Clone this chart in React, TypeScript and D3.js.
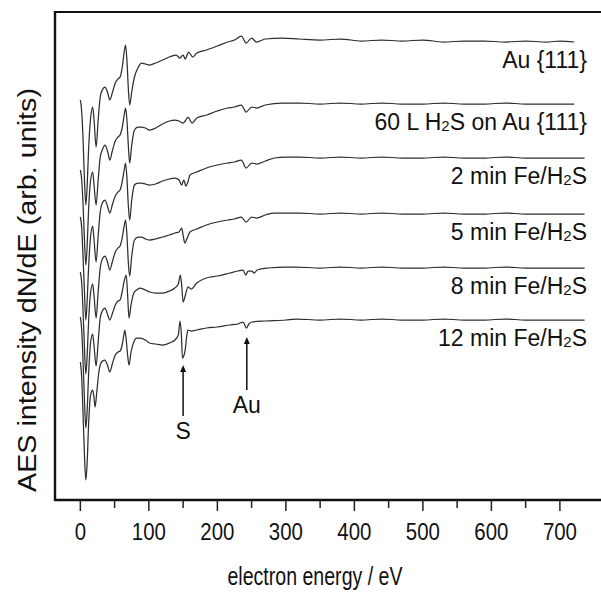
import React from 'react';
import * as d3 from 'd3';

// ---- data (energy in eV, intensity dN/dE in arb. units, traces offset vertically) ----
const energyMajorTicks = [0, 100, 200, 300, 400, 500, 600, 700];
const energyMinorTicks = [50, 150, 250, 350, 450, 550, 650];

const seriesNames = [
  'Au {111}',
  '60 L H2S on Au {111}',
  '2 min Fe/H2S',
  '5 min Fe/H2S',
  '8 min Fe/H2S',
  '12 min Fe/H2S',
];

const au111: [number, number][] = [
  [0, 400], [2, 388], [4, 360], [6, 320], [8, 295], [10, 315], [12, 350], [15, 382], [18, 393], [20, 380],
  [23, 353], [26, 380], [29, 403], [32, 410], [36, 413], [40, 407], [43, 400], [47, 408], [51, 417], [55, 421],
  [58, 423], [61, 432], [64, 448], [66, 455], [68, 440], [70, 412], [72, 395], [75, 408], [79, 423], [84, 432],
  [89, 437], [95, 436], [101, 435], [110, 437], [120, 440], [130, 443], [140, 445], [145, 442], [150, 445], [153, 441],
  [158, 448], [164, 443], [170, 447], [184, 450], [200, 454], [215, 458], [225, 460], [235, 464], [242, 457], [250, 462],
  [257, 458], [270, 461], [295, 462], [320, 461], [350, 460], [380, 461], [410, 459], [440, 460], [470, 459], [500, 460],
  [530, 458], [560, 459], [590, 459], [620, 458], [650, 459], [680, 458], [700, 459], [721, 458],
];

const h2s60L: [number, number][] = [
  [0, 330], [2, 320], [4, 295], [6, 260], [8, 235], [10, 255], [12, 290], [15, 320], [18, 328], [20, 315],
  [23, 295], [26, 320], [29, 343], [32, 350], [36, 355], [40, 348], [43, 340], [47, 350], [51, 359], [55, 363],
  [58, 365], [61, 372], [64, 385], [66, 392], [68, 380], [70, 355], [72, 337], [75, 355], [79, 370], [84, 373],
  [89, 373], [95, 372], [101, 370], [110, 372], [120, 376], [130, 379], [138, 380], [144, 379], [150, 377], [153, 379],
  [157, 383], [163, 377], [170, 382], [184, 385], [200, 389], [215, 392], [225, 393], [235, 395], [242, 388], [250, 393],
  [257, 392], [270, 395], [295, 397], [320, 397], [350, 396], [380, 397], [410, 396], [440, 397], [470, 396], [500, 396],
  [530, 397], [560, 396], [590, 396], [620, 397], [650, 396], [680, 396], [700, 396], [721, 396],
];

const fe2min: [number, number][] = [
  [0, 283], [2, 272], [4, 242], [6, 208], [8, 180], [10, 200], [12, 232], [15, 264], [18, 274], [20, 260],
  [23, 238], [26, 264], [29, 288], [32, 297], [36, 300], [40, 293], [43, 287], [47, 296], [51, 304], [55, 308],
  [58, 310], [61, 318], [64, 330], [66, 337], [68, 322], [70, 295], [72, 280], [75, 300], [79, 315], [84, 317],
  [89, 317], [95, 316], [101, 315], [110, 316], [120, 319], [130, 321], [138, 322], [144, 320], [148, 315], [151, 320],
  [154, 314], [157, 318], [160, 325], [170, 328], [184, 332], [200, 335], [215, 337], [225, 338], [235, 340], [242, 332],
  [250, 337], [257, 336], [270, 339], [283, 342], [300, 343], [320, 343], [350, 342], [380, 343], [410, 342], [440, 343],
  [470, 342], [500, 342], [530, 343], [560, 342], [590, 342], [620, 343], [650, 342], [680, 342], [710, 342], [736, 342],
];

const fe5min: [number, number][] = [
  [0, 228], [2, 217], [4, 188], [6, 152], [8, 126], [10, 145], [12, 178], [15, 208], [18, 216], [20, 204],
  [23, 182], [26, 208], [29, 232], [32, 241], [36, 244], [40, 237], [43, 230], [47, 239], [51, 248], [55, 252],
  [58, 254], [61, 262], [64, 274], [66, 280], [68, 265], [70, 238], [72, 224], [75, 244], [79, 260], [84, 263],
  [89, 263], [95, 261], [101, 260], [110, 261], [120, 263], [130, 265], [138, 267], [144, 268], [148, 272], [150, 265],
  [152.5, 257], [156, 262], [160, 268], [170, 271], [184, 275], [200, 278], [215, 280], [225, 281], [235, 283], [242, 278],
  [250, 283], [257, 282], [270, 285], [283, 287], [300, 287], [320, 287], [350, 286], [380, 287], [410, 286], [440, 287],
  [470, 286], [500, 286], [530, 287], [560, 286], [590, 286], [620, 287], [650, 286], [680, 286], [710, 286], [736, 286],
];

const fe8min: [number, number][] = [
  [0, 183], [2, 170], [4, 138], [6, 100], [8, 72], [10, 90], [12, 125], [15, 158], [18, 166], [20, 154],
  [23, 134], [26, 158], [29, 182], [32, 189], [36, 192], [40, 185], [43, 180], [47, 187], [51, 195], [55, 199],
  [58, 200], [61, 208], [64, 219], [67, 225], [69, 205], [71, 182], [74, 195], [78, 207], [82, 210], [87, 212],
  [95, 210], [101, 208], [110, 207], [120, 207], [130, 209], [138, 212], [143, 216], [146, 225], [148, 214], [150, 198],
  [153, 204], [157, 213], [162, 211], [170, 217], [184, 222], [200, 224], [218, 227], [230, 229], [237.5, 230], [241.5, 225],
  [245, 229], [250, 229], [254, 227], [258, 230], [275, 232], [300, 233], [315, 233], [350, 232], [380, 233], [410, 232],
  [440, 233], [470, 232], [500, 232], [530, 233], [560, 232], [590, 232], [620, 233], [650, 232], [680, 232], [710, 232],
  [736, 232],
];

const fe12min: [number, number][] = [
  [0, 138], [2, 122], [4, 85], [6, 45], [8, 20], [10, 38], [12, 75], [15, 105], [18, 110], [20, 102],
  [21.5, 93], [24, 108], [27, 128], [31, 138], [35.7, 140], [40, 134], [43, 128], [47, 137], [51, 145], [55, 148],
  [58, 149], [61, 155], [63, 163], [65, 170], [67, 160], [69, 145], [71, 135], [74, 148], [78, 158], [82, 162],
  [87, 162], [95, 160], [101, 157], [110, 156], [120, 155], [130, 157], [138, 160], [143, 165], [145.5, 179], [147.5, 165],
  [149, 142], [151, 144], [153, 150], [155.5, 165], [157, 170], [162, 169], [170, 170], [184, 172], [200, 173], [218, 175],
  [230, 176], [237.5, 178], [242.5, 172], [246, 176], [250, 178], [270, 179], [300, 180], [315, 181], [350, 180], [380, 181],
  [410, 180], [440, 181], [470, 180], [500, 180], [530, 181], [560, 180], [590, 180], [620, 181], [650, 180], [680, 180],
  [710, 180], [736, 180],
];

const spectra = [au111, h2s60L, fe2min, fe5min, fe8min, fe12min];

// peak markers on the 12 min spectrum
const markerLabels = ['S', 'Au'];
const markerEnergies = [150, 243];
const markerTips = [135, 163];
const markerTails = [84, 110];

// ---- layout ----
const W = 601;
const H = 592;
const LEFT = 55;
const TOP = 12;
const BOTTOM = 500;
const FONT = "'Liberation Sans', Arial, Helvetica, sans-serif";

const xScale = d3.scaleLinear().domain([-37, 760]).range([LEFT, 601]);
const yScale = d3.scaleLinear().domain([0, 488]).range([BOTTOM, TOP]);

const lineGen = d3
  .line<[number, number]>()
  .x((d) => xScale(d[0]))
  .y((d) => yScale(d[1]))
  .curve(d3.curveMonotoneX);

function renderLabel(name: string) {
  const parts = name.split('H2S');
  const out: React.ReactNode[] = [];
  parts.forEach((p, i) => {
    out.push(<tspan key={'p' + i}>{p}</tspan>);
    if (i < parts.length - 1) {
      out.push(<tspan key={'h' + i}>H</tspan>);
      out.push(
        <tspan key={'s' + i} fontSize={15} dy={1}>
          2
        </tspan>
      );
      out.push(
        <tspan key={'t' + i} dy={-1}>
          S
        </tspan>
      );
    }
  });
  return out;
}

export default function App() {
  return (
    <svg
      width={W}
      height={H}
      viewBox={`0 0 ${W} ${H}`}
      style={{ position: 'absolute', left: 0, top: 0, background: '#fff' }}
      fontFamily={FONT}
    >
      <rect x={0} y={0} width={W} height={H} fill="#fff" />

      {/* spectra */}
      {spectra.map((s, i) => (
        <path
          key={i}
          d={lineGen(s) || ''}
          fill="none"
          stroke="#2e2e2e"
          strokeWidth={1.25}
          strokeLinejoin="round"
        />
      ))}

      {/* series labels */}
      {spectra.map((s, i) => (
        <text
          key={'l' + i}
          x={587}
          y={yScale(s[s.length - 1][1]) + 26}
          textAnchor="end"
          fontSize={23}
          fill="#111"
        >
          {renderLabel(seriesNames[i])}
        </text>
      ))}

      {/* arrows */}
      {markerLabels.map((lab, i) => {
        const x = xScale(markerEnergies[i]);
        const yt = yScale(markerTips[i]);
        const yb = yScale(markerTails[i]);
        return (
          <g key={'m' + i}>
            <line x1={x} x2={x} y1={yb} y2={yt + 5} stroke="#111" strokeWidth={1.5} />
            <path d={`M${x},${yt} L${x - 3},${yt + 7} L${x + 3},${yt + 7} Z`} fill="#111" />
            <text x={x} y={yb + 23} textAnchor="middle" fontSize={23} fill="#111">
              {lab}
            </text>
          </g>
        );
      })}

      {/* frame */}
      <line x1={LEFT} x2={W} y1={TOP} y2={TOP} stroke="#111" strokeWidth={2} />
      <line x1={LEFT} x2={LEFT} y1={TOP - 1} y2={BOTTOM + 1} stroke="#111" strokeWidth={2.4} />
      <line x1={LEFT} x2={W} y1={BOTTOM} y2={BOTTOM} stroke="#111" strokeWidth={2.4} />

      {/* ticks */}
      {energyMajorTicks.map((t) => (
        <g key={'M' + t}>
          <line x1={xScale(t)} x2={xScale(t)} y1={BOTTOM} y2={BOTTOM + 11} stroke="#222" strokeWidth={1.5} />
          <text
            transform={`translate(${xScale(t)},${540}) scale(0.85,1)`}
            textAnchor="middle"
            fontSize={24}
            fill="#111"
          >
            {t}
          </text>
        </g>
      ))}
      {energyMinorTicks.map((t) => (
        <line key={'m' + t} x1={xScale(t)} x2={xScale(t)} y1={BOTTOM} y2={BOTTOM + 8} stroke="#222" strokeWidth={1.5} />
      ))}

      {/* axis titles */}
      <text
        x={315}
        y={585}
        textAnchor="middle"
        fontSize={25}
        textLength={175}
        lengthAdjust="spacingAndGlyphs"
        fill="#111"
      >
        electron energy / eV
      </text>
      <text
        transform={`translate(36,492) rotate(-90)`}
        x={0}
        y={0}
        textAnchor="start"
        fontSize={25}
        textLength={404}
        lengthAdjust="spacingAndGlyphs"
        fill="#111"
      >
        AES intensity dN/dE (arb. units)
      </text>
    </svg>
  );
}
